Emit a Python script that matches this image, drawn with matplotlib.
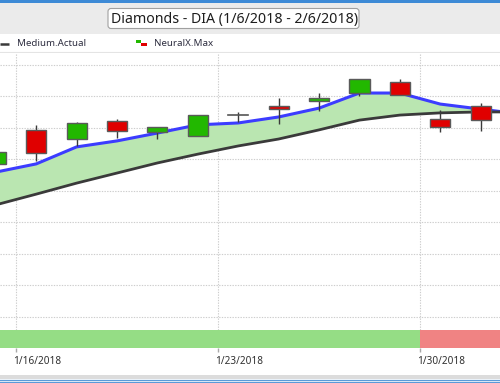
import matplotlib
matplotlib.use("Agg")
import matplotlib.pyplot as plt
import matplotlib.transforms as mtransforms
from matplotlib.patches import FancyBboxPatch, Rectangle
import numpy as np

plt.rcParams['font.family'] = ['Noto Sans', 'DejaVu Sans']

# trading days shown (1/15 was a market holiday)
days = ['1/12', '1/16', '1/17', '1/18', '1/19', '1/22', '1/23', '1/24',
        '1/25', '1/26', '1/29', '1/30', '1/31', '2/1']

# NeuralX.Max candles (no candle for 2/1 inside the view)
opens = [264.86, 265.94, 265.65, 266.22, 265.87, 265.75, 266.41, 266.70, 266.86, 267.11, 267.46, 266.29, 266.70]
highs = [265.24, 266.10, 266.19, 266.29, 266.03, 266.41, 266.51, 266.95, 267.11, 267.56, 267.56, 266.57, 266.79]
lows = [264.86, 264.95, 265.43, 265.68, 265.65, 265.75, 266.19, 266.13, 266.54, 267.02, 267.05, 265.87, 265.90]
closes = [265.24, 265.21, 266.16, 265.90, 266.03, 266.41, 266.41, 266.60, 266.95, 267.56, 267.05, 266.03, 266.25]

# blue upper line and Medium.Actual
upper = [264.60, 264.86, 265.40, 265.59, 265.84, 266.10, 266.16, 266.35, 266.63, 267.11, 267.11, 266.76, 266.60, 266.44]
medium_actual = [263.56, 263.90, 264.25, 264.57, 264.89, 265.17, 265.43, 265.65, 265.94, 266.25, 266.41, 266.48, 266.51, 266.51]

tick_days = ['1/16', '1/23', '1/30']
tick_labels = ['1/16/2018', '1/23/2018', '1/30/2018']
signal_change = '1/30'   # band turns red from here

W, H = 500, 383

def px(x0, y0, x1, y1):
    return [x0 / W, 1 - y1 / H, (x1 - x0) / W, (y1 - y0) / H]

fig = plt.figure(figsize=(5, 3.83), dpi=100)

# window chrome
chrome = fig.add_axes([0, 0, 1, 1])
chrome.set_xlim(0, W)
chrome.set_ylim(H, 0)
chrome.axis('off')
chrome.add_patch(Rectangle((0, 0), W, 3, color='#3d8ad6', lw=0))
chrome.add_patch(Rectangle((0, 3), W, 31, color='#ebebeb', lw=0))
chrome.add_patch(FancyBboxPatch((108, 8.5), 251, 20, boxstyle='round,pad=0,rounding_size=3',
                                fc='white', ec='#a0a0a0', lw=0.8))
chrome.text(111, 19, 'Diamonds - DIA (1/6/2018 - 2/6/2018)', fontsize=10.2,
            color='#1e1e1e', va='center', ha='left')
chrome.plot([0, W], [52, 52], color='#e4e4e4', lw=0.8)
chrome.plot([0, 9], [43.5, 43.5], color='#3a3a3a', lw=1.8, solid_capstyle='butt')
chrome.text(17, 44, 'Medium.Actual', fontsize=7, color='#2e2e40', va='center')
chrome.add_patch(Rectangle((136, 40), 5, 2.5, color='#22b800', lw=0))
chrome.add_patch(Rectangle((141, 43), 6, 2.5, color='#e00000', lw=0))
chrome.text(154, 44, 'NeuralX.Max', fontsize=7, color='#2e2e40', va='center')
chrome.add_patch(Rectangle((0, 375), W, 3.5, color='#dcdcdc', lw=0))
chrome.plot([0, W], [379.5, 379.5], color='#5a9ad8', lw=0.9)
chrome.plot([0, W], [382.3, 382.3], color='#5a9ad8', lw=0.9)

x = np.arange(len(days)) + 0.5
xl = (1 - 16 / 40.4, 1 + 484 / 40.4)
grid_x = [days.index(d) for d in tick_days]

ax = fig.add_axes(px(0, 53, 500, 330))
ax.set_xlim(*xl)
ax.set_ylim(259.587, 268.381)
for s in ax.spines.values():
    s.set_visible(False)
ax.set_xticks(grid_x)
ax.set_yticks(np.arange(260, 269))
ax.tick_params(length=0, labelbottom=False, labelleft=False)
ax.grid(True, color='#cdcdcd', lw=0.8, ls=(0, (1.2, 1.2)))
ax.set_axisbelow(True)

ax.fill_between(x, upper, medium_actual, color='#bae6b1', lw=0, zorder=1)
ax.plot(x, upper, color='#3c3cff', lw=2.2, zorder=2)
ax.plot(x, medium_actual, color='#3a3a3a', lw=2.0, zorder=2)

n = len(opens)
cx = x[:n]
ax.vlines(cx, lows, highs, color='#3a3a3a', lw=1.0, zorder=3)
for xi, o, c in zip(cx, opens, closes):
    if abs(c - o) < 0.01:
        ax.plot([xi - 0.25, xi + 0.25], [o, o], color='#555555', lw=1.2, zorder=4)
        continue
    col = '#22b800' if c > o else '#e00000'
    ax.bar(xi, abs(c - o), bottom=min(o, c), width=0.5, color=col,
           edgecolor='#5a5a5a', lw=1.0, zorder=4)

# signal band
band = fig.add_axes(px(0, 330, 500, 348))
band.set_xlim(*xl)
band.set_ylim(0, 1)
for s in band.spines.values():
    s.set_visible(False)
split = days.index(signal_change)
band.axvspan(xl[0], split, color='#95dd85', lw=0)
band.axvspan(split, xl[1], color='#f08383', lw=0)
band.set_yticks([])
band.set_xticks(grid_x)
band.set_xticklabels(tick_labels, fontsize=7.2, color='#303030')
band.tick_params(axis='x', length=3, width=1, color='#a8a8a8', pad=3)
off = mtransforms.ScaledTranslation(-3 / 100, 0, fig.dpi_scale_trans)
for lab in band.get_xticklabels():
    lab.set_horizontalalignment('left')
    lab.set_transform(lab.get_transform() + off)

fig.savefig('out.png', dpi=100)
